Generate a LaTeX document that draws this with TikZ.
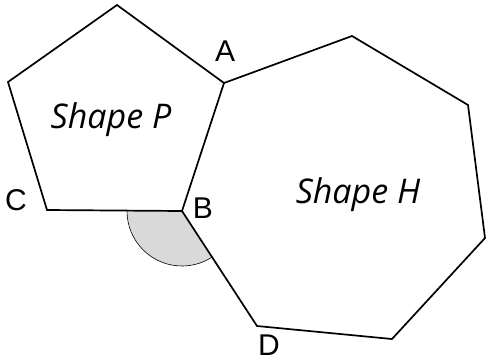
\documentclass[tikz,border=0pt]{standalone}
\usepackage{fontspec}
\setmainfont{Liberation Sans}
\newfontfamily\handfont{Open Sans}
\begin{document}
\begin{tikzpicture}[x=1pt,y=-1pt,
  edge/.style={line width=1.7pt,line join=miter},
  vlabel/.style={font=\fontsize{30}{30}\selectfont,inner sep=0pt},
  shapename/.style={font=\handfont\itshape\fontsize{34}{34}\selectfont,inner sep=0pt}]
\useasboundingbox (0,0) rectangle (486,362);
% vertices
\coordinate (P1) at (117,5);
\coordinate (A) at (224,83);
\coordinate (B) at (182,211);
\coordinate (C) at (47,210);
\coordinate (P5) at (8,82);
\coordinate (H2) at (352,36);
\coordinate (H3) at (468,105);
\coordinate (H4) at (485,238);
\coordinate (H5) at (392,339);
\coordinate (D) at (257,326);
% angle at B
\fill[gray!30] (B) -- ++(180:55) arc[start angle=180,end angle=57,radius=55] -- cycle;
\draw[line width=0.6pt] (B) ++(180:55) arc[start angle=180,end angle=57,radius=55];
% shapes
\draw[edge] (P1) -- (A) -- (B) -- (C) -- (P5) -- cycle;
\draw[edge] (A) -- (H2) -- (H3) -- (H4) -- (H5) -- (D) -- (B);
% labels
\node[vlabel] (lA) at (225,51) {A};
\node[vlabel] (lB) at (203,208) {B};
\node[vlabel] (lC) at (16,200) {C};
\node[vlabel] (lD) at (269,345) {D};
\node[shapename,anchor=base] (sP) at (111,128) {Shape P};
\node[shapename,anchor=base] (sH) at (358,203) {Shape H};
\end{tikzpicture}
\end{document}
